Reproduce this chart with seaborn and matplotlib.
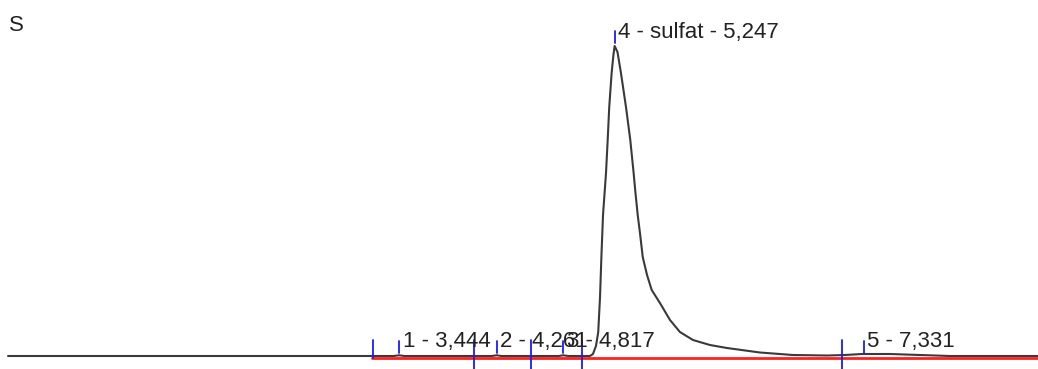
import matplotlib.pyplot as plt
import numpy as np
import pandas as pd
import seaborn as sns

# detector trace (time in min, signal)
time_min = [0.175, 3.20, 3.40, 3.444, 3.49, 4.22, 4.261, 4.30, 4.78, 4.817, 4.86,
            4.999, 5.041, 5.066, 5.091, 5.110, 5.125, 5.137, 5.150, 5.175, 5.189,
            5.202, 5.222, 5.237, 5.247, 5.271, 5.300, 5.342, 5.378, 5.406, 5.419,
            5.440, 5.461, 5.482, 5.518, 5.557, 5.626, 5.710, 5.793, 5.902, 6.044,
            6.186, 6.462, 6.738, 7.023, 7.173, 7.315, 7.549, 7.800, 8.051, 8.787]
signal = [0.0, 0.0, 0.0, 0.07, 0.0, 0.0, 0.07, 0.0, 0.0, 0.07, 0.0,
          0.0, 0.0, 0.2, 1.0, 2.4, 5.9, 10.1, 14.1, 18.3, 21.6,
          24.9, 28.3, 30.1, 31.0, 30.4, 28.3, 24.9, 21.6, 18.3, 16.6,
          14.1, 12.1, 9.9, 8.1, 6.6, 5.3, 3.6, 2.4, 1.6, 1.1,
          0.8, 0.35, 0.1, 0.05, 0.1, 0.2, 0.2, 0.1, 0.0, 0.0]

# integration baseline
baseline_start = 3.218
baseline_end = 8.787

# peak table
peak_labels = ["1 - 3,444", "2 - 4,261", "3 - 4,817", "4 - sulfat - 5,247", "5 - 7,331"]
peak_times = [3.444, 4.261, 4.817, 5.247, 7.331]
peak_heights = [0.1, 0.1, 0.1, 31.0, 0.2]

# peak start / end markers
boundary_times = [3.227, 4.071, 4.548, 4.974, 7.148]

trace = pd.DataFrame({"time": time_min, "signal": signal})

sns.set_theme(style="white")
plt.rcParams["font.family"] = ["Liberation Sans", "DejaVu Sans"]

fig = plt.figure(figsize=(10.38, 3.69), dpi=100)
ax = fig.add_axes([0, 0, 1, 1])

sns.lineplot(data=trace, x="time", y="signal", ax=ax, color="#3a3a3a",
             linewidth=1.5, zorder=2)
ax.lines[-1].set_solid_joinstyle("round")
ax.plot([baseline_start, baseline_end], [-0.2, -0.2], color="#ff2020",
        linewidth=2.0, zorder=3)

# boundary ticks (first one shorter)
for i, t in enumerate(boundary_times):
    low = -0.2 if i == 0 else -1.3
    ax.plot([t, t], [1.6, low], color="#1a1aff", linewidth=1.3, zorder=4)

# apex ticks and labels
for label, t, h in zip(peak_labels, peak_times, peak_heights):
    bottom = h + 0.3 if h > 1 else 0.35
    ax.plot([t, t], [bottom, bottom + 1.2], color="#1a1aff", linewidth=1.3, zorder=4)
    ax.text(t + 0.03, bottom + 0.5, label, fontsize=16, color="#222222",
            va="baseline", ha="left", zorder=5)

ax.text(9 / 1038, 1 - 31 / 369, "S", transform=ax.transAxes, fontsize=16,
        color="#222222", va="baseline", ha="left")

ax.set_xlim(0.108, 8.787)
ax.set_ylim(-1.3, 35.6)
ax.set_axis_off()

fig.savefig("out.png", dpi=100)
plt.close(fig)
